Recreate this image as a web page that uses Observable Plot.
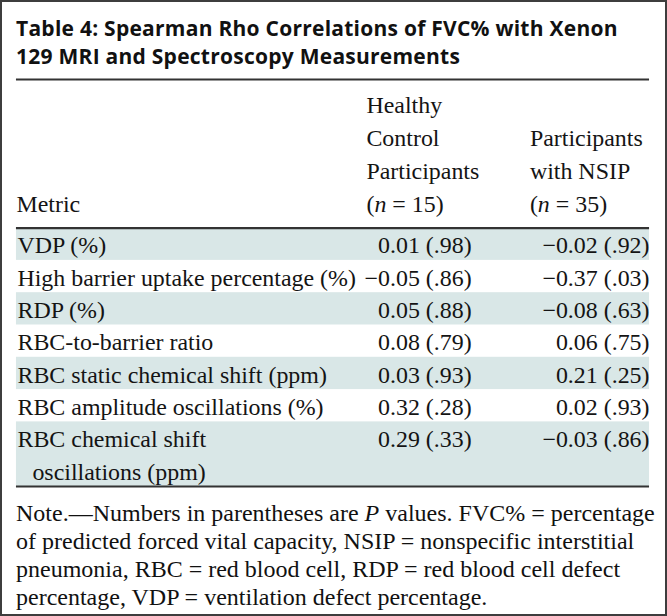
<!DOCTYPE html>
<html>
<head>
<meta charset="utf-8">
<script src="https://cdn.jsdelivr.net/npm/d3@7"></script>
<script src="https://cdn.jsdelivr.net/npm/@observablehq/plot@0.6"></script>
<style>
  html, body { margin: 0; padding: 0; background: #fff; }
  #wrap { position: relative; width: 667px; height: 616px; box-sizing: border-box; border: 2px solid #3d3d3d; background: #fff; overflow: hidden; }
  #title { position: absolute; left: 14px; top: 12px; font-family: "Open Sans", sans-serif; font-weight: 700; font-size: 21px; letter-spacing: 0.25px; line-height: 28px; color: #111; white-space: nowrap; margin: 0; }
  #chart { position: absolute; left: -2px; top: 76px; }
  #note { position: absolute; left: 14px; top: 497px; font-family: "Liberation Serif", serif; font-size: 24px; line-height: 28px; color: #111; white-space: nowrap; margin: 0; }
</style>
</head>
<body>
<div id="wrap">
  <div id="title"></div>
  <div id="chart"></div>
  <div id="note"></div>
</div>
<script>
// ---- data ----
const titleLines = ["Table 4: Spearman Rho Correlations of FVC% with Xenon", "129 MRI and Spectroscopy Measurements"];
const headers = ["Metric", "Healthy\nControl\nParticipants\n(n = 15)", "Participants\nwith NSIP\n(n = 35)"];
const metrics = [
  "VDP (%)",
  "High barrier uptake percentage (%)",
  "RDP (%)",
  "RBC-to-barrier ratio",
  "RBC static chemical shift (ppm)",
  "RBC amplitude oscillations (%)",
  "RBC chemical shift\noscillations (ppm)"
];
const healthyRho = [0.01, -0.05, 0.05, 0.08, 0.03, 0.32, 0.29];
const healthyP   = [0.98, 0.86, 0.88, 0.79, 0.93, 0.28, 0.33];
const nsipRho    = [-0.02, -0.37, -0.08, 0.06, 0.21, 0.02, -0.03];
const nsipP      = [0.92, 0.03, 0.63, 0.75, 0.25, 0.93, 0.86];
const noteHTML = 'Note.—Numbers in parentheses are <i>P</i> values. FVC% = percentage<br>of predicted forced vital capacity, NSIP = nonspecific interstitial<br>pneumonia, RBC = red blood cell, RDP = red blood cell defect<br>percentage, VDP = ventilation defect percentage.';

// ---- layout ----
const LINE = 32.4;          // px per body line
const HEADER_LINES = 4.6;   // header block height in body-line units
const FS = 24;
const BAND = "#d9e7e7";
const RULE = "#333333";
const INK = "#141414";
const COL1_LEFT = 0.5528, COL1_RIGHT = 0.719, COL2_LEFT = 0.811, COL2_RIGHT = 1;

const fmt = (r, p) => (r < 0 ? "\u2212" : "") + Math.abs(r).toFixed(2) + " (." + p.toFixed(2).slice(2) + ")";

let start = 0;
const rows = metrics.map((m, i) => {
  const lines = m.split("\n");
  const row = {i, lines, start, n: lines.length, healthy: fmt(healthyRho[i], healthyP[i]), nsip: fmt(nsipRho[i], nsipP[i])};
  start += lines.length;
  return row;
});
const BODY_LINES = start;
const firstLines = rows.map(r => ({text: r.lines[0], y: r.start + 0.5}));
const contLines = rows.flatMap(r => r.lines.slice(1).map((t, k) => ({text: t, y: r.start + k + 1.5})));
const headerData = headers.map((h, k) => ({text: h, x: [0, COL1_LEFT, COL2_LEFT][k]}));

document.getElementById("title").innerHTML = titleLines.join("<br>");
document.getElementById("note").innerHTML = noteHTML;

const height = 1 + (HEADER_LINES + BODY_LINES) * LINE + 2;
const plot = Plot.plot({
  width: 667,
  height,
  marginLeft: 16, marginRight: 16, marginTop: 1, marginBottom: 2,
  x: {type: "linear", domain: [0, 1], axis: null},
  y: {type: "linear", domain: [-HEADER_LINES, BODY_LINES], reverse: true, axis: null},
  style: {fontFamily: "'Liberation Serif', serif", fontSize: FS + "px", color: INK, background: "transparent"},
  marks: [
    Plot.rect(rows.filter(r => r.i % 2 === 0), {x1: 0, x2: 1, y1: "start", y2: r => r.start + r.n, fill: BAND}),
    Plot.ruleY([-HEADER_LINES, 0, BODY_LINES], {stroke: RULE, strokeWidth: 2.2}),
    Plot.text(headerData, {x: "x", y: 0, text: "text", textAnchor: "start", lineAnchor: "bottom", lineHeight: 1.38, dy: -16, fill: INK, fontSize: FS}),
    Plot.text(firstLines, {x: 0, y: "y", text: "text", textAnchor: "start", dx: 1, dy: 1.5, fill: INK, fontSize: FS}),
    Plot.text(contLines, {x: 0, y: "y", text: "text", textAnchor: "start", dx: 16, dy: 1.5, fill: INK, fontSize: FS}),
    Plot.text(rows, {x: COL1_RIGHT, y: r => r.start + 0.5, text: "healthy", textAnchor: "end", dy: 1.5, fill: INK, fontSize: FS}),
    Plot.text(rows, {x: COL2_RIGHT, y: r => r.start + 0.5, text: "nsip", textAnchor: "end", dx: 0, dy: 1.5, fill: INK, fontSize: FS})
  ]
});

// italic "n" in the header sample sizes
const NS = "http://www.w3.org/2000/svg";
plot.querySelectorAll("text, tspan").forEach(el => {
  if (el.children.length) return;
  const m = /^\(n = (\d+)\)$/.exec(el.textContent);
  if (!m) return;
  el.textContent = "(";
  const it = document.createElementNS(NS, "tspan");
  it.setAttribute("font-style", "italic");
  it.textContent = "n";
  el.appendChild(it);
  el.appendChild(document.createTextNode(" = " + m[1] + ")"));
});

document.getElementById("chart").appendChild(plot);
</script>
</body>
</html>
